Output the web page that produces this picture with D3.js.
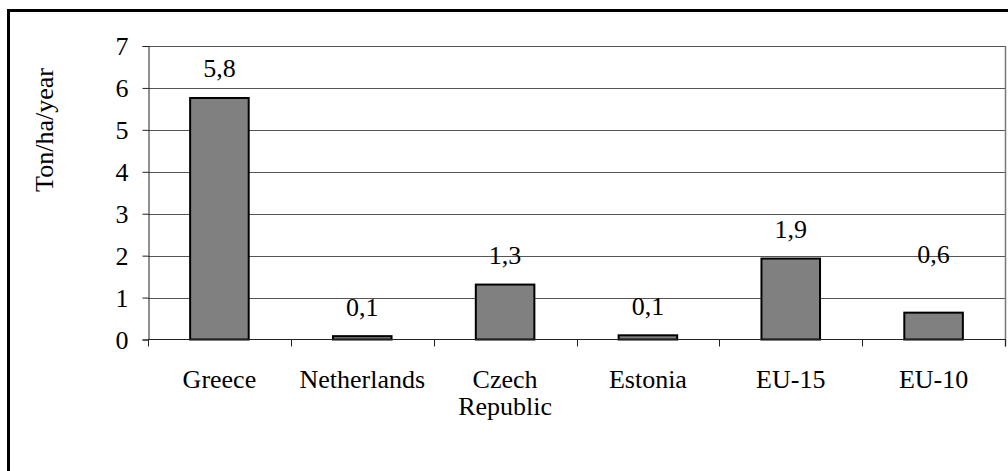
<!DOCTYPE html>
<html>
<head>
<meta charset="utf-8">
<script src="https://cdn.jsdelivr.net/npm/d3@7"></script>
</head>
<body style="margin:0;background:#fff">
<svg id="chart" width="1008" height="471" style="display:block"></svg>
<script>
// Soil erosion rates, ton per hectare per year
const categories = ["Greece", "Netherlands", "Czech\nRepublic", "Estonia", "EU-15", "EU-10"];
const erosion = [5.76, 0.08, 1.31, 0.1, 1.93, 0.64];
const yTicks = [0, 1, 2, 3, 4, 5, 6, 7];
const yTitle = "Ton/ha/year";

const FONT = '"Liberation Serif"';
const FS = "26px";

const svg = d3.select("#chart");
const W = 1008, H = 471;

// Outer frame (right and bottom edges run past the canvas)
svg.append("rect")
  .attr("x", 8.5).attr("y", 10.5)
  .attr("width", W + 10).attr("height", H + 10)
  .attr("fill", "#fff").attr("stroke", "#000").attr("stroke-width", 3);

const plot = { left: 148, right: 1005, top: 46, bottom: 339.5 };

const x = d3.scaleBand()
  .domain(categories)
  .range([plot.left, plot.right])
  .padding(0);

const y = d3.scaleLinear()
  .domain([0, 7])
  .range([plot.bottom, plot.top]);

// Gridlines
svg.append("g")
  .selectAll("line")
  .data(yTicks.filter(d => d > 0))
  .join("line")
  .attr("x1", plot.left).attr("x2", plot.right)
  .attr("y1", d => Math.round(y(d)) + 0.5).attr("y2", d => Math.round(y(d)) + 0.5)
  .attr("stroke", "#555").attr("stroke-width", 1);

// Right border of the plot area
svg.append("line")
  .attr("x1", plot.right + 0.5).attr("x2", plot.right + 0.5)
  .attr("y1", plot.top).attr("y2", plot.bottom + 7)
  .attr("stroke", "#777").attr("stroke-width", 1.5);

// Bars
const barFrac = 0.41;
svg.append("g")
  .selectAll("rect")
  .data(categories)
  .join("rect")
  .attr("x", d => x(d) + x.bandwidth() * (1 - barFrac) / 2)
  .attr("width", x.bandwidth() * barFrac)
  .attr("y", (d, i) => y(erosion[i]))
  .attr("height", (d, i) => y(0) - y(erosion[i]))
  .attr("fill", "#808080")
  .attr("stroke", "#000")
  .attr("stroke-width", 2);

// Y axis
const yAxis = d3.axisLeft(y)
  .tickValues(yTicks)
  .tickSize(6)
  .tickPadding(14)
  .tickFormat(d3.format("d"));
const gy = svg.append("g")
  .attr("transform", `translate(${plot.left + 0.5},0)`)
  .call(yAxis);
gy.select(".domain").attr("stroke", "#222");
gy.selectAll(".tick line").attr("stroke", "#222");
gy.selectAll(".tick text")
  .style("font-family", FONT)
  .style("font-size", FS)
  .attr("fill", "#000")
  .attr("dy", "0.34em");

// X axis: ticks sit on category boundaries
const boundaries = categories.map(c => x(c)).concat([plot.right]);
svg.append("line")
  .attr("x1", plot.left).attr("x2", plot.right + 1)
  .attr("y1", plot.bottom).attr("y2", plot.bottom)
  .attr("stroke", "#222").attr("stroke-width", 1);
svg.append("g")
  .selectAll("line")
  .data(boundaries)
  .join("line")
  .attr("x1", d => Math.round(d) + 0.5).attr("x2", d => Math.round(d) + 0.5)
  .attr("y1", plot.bottom).attr("y2", plot.bottom + 7)
  .attr("stroke", "#222").attr("stroke-width", 1);

// Category labels (multi-line where needed)
const catLabels = svg.append("g")
  .selectAll("text")
  .data(categories)
  .join("text")
  .attr("x", d => x(d) + x.bandwidth() / 2)
  .attr("y", 388)
  .attr("text-anchor", "middle")
  .style("font-family", FONT)
  .style("font-size", FS);
catLabels.each(function(d) {
  const t = d3.select(this);
  d.split("\n").forEach((line, i) => {
    t.append("tspan")
      .attr("x", x(d) + x.bandwidth() / 2)
      .attr("dy", i === 0 ? 0 : 27)
      .text(line);
  });
});

// Value labels
const fmt = v => d3.format(".1f")(v).replace(".", ",");
const labelLift = { "EU-10": 29 };
svg.append("g")
  .selectAll("text")
  .data(categories)
  .join("text")
  .attr("x", d => x(d) + x.bandwidth() / 2)
  .attr("y", (d, i) => y(erosion[i]) - 20.5 - (labelLift[d] || 0))
  .attr("text-anchor", "middle")
  .style("font-family", FONT)
  .style("font-size", FS)
  .text((d, i) => fmt(erosion[i]));

// Y axis title
svg.append("text")
  .attr("transform", `translate(53,130) rotate(-90)`)
  .attr("text-anchor", "middle")
  .style("font-family", FONT)
  .style("font-size", FS)
  .text(yTitle);
</script>
</body>
</html>
